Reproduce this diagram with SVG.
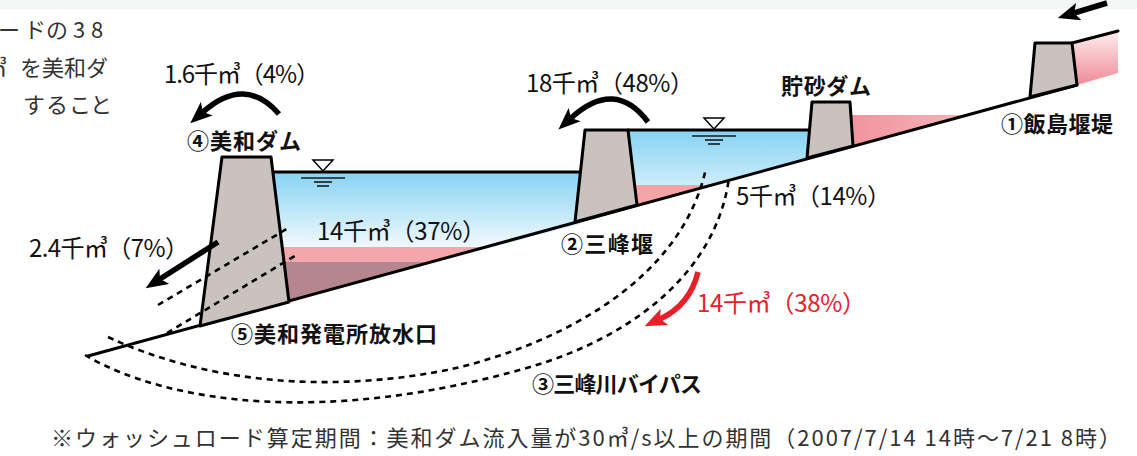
<svg xmlns="http://www.w3.org/2000/svg" width="1137" height="456" viewBox="0 0 1137 456">
  <defs>
    <style>
      .lbl{font-family:"Noto Sans CJK JP","Noto Sans",sans-serif;font-size:22px;font-weight:700;fill:#111}
      .qty{font-family:"Noto Sans CJK JP","Noto Sans",sans-serif;font-size:24px;font-weight:400;fill:#111}
      .red{fill:#e8202a}
      .note{font-family:"Noto Sans CJK JP","Noto Sans",sans-serif;font-size:22px;font-weight:400;fill:#333}
      .dam{fill:#c9c2bf;stroke:#000;stroke-width:3;stroke-linejoin:round}
      .edge{fill:none;stroke:#000;stroke-width:3;stroke-linecap:round}
      .dash{fill:none;stroke:#000;stroke-width:2.6;stroke-dasharray:6 5}
      .flow{fill:none;stroke:#000;stroke-width:5.5;marker-end:url(#ah)}
      .flow-red{fill:none;stroke:#e8202a;stroke-width:5.5;marker-end:url(#ahr)}
      .wl line{stroke:#1a1a1a;stroke-width:1.6}
    </style>
    <marker id="ah" markerUnits="userSpaceOnUse" viewBox="0 0 22 18" markerWidth="22" markerHeight="18" refX="5" refY="9" orient="auto">
      <path d="M0,0 L22,9 L0,18 L5,9 z" fill="#000"/>
    </marker>
    <marker id="ahr" markerUnits="userSpaceOnUse" viewBox="0 0 22 18" markerWidth="22" markerHeight="18" refX="5" refY="9" orient="auto">
      <path d="M0,0 L22,9 L0,18 L5,9 z" fill="#e8202a"/>
    </marker>
    <linearGradient id="waterMiwa" gradientUnits="userSpaceOnUse" x1="0" y1="172" x2="0" y2="247">
      <stop offset="0" stop-color="#86d2f3"/>
      <stop offset="1" stop-color="#f2fafd"/>
    </linearGradient>
    <linearGradient id="waterMibu" gradientUnits="userSpaceOnUse" x1="0" y1="130" x2="0" y2="205">
      <stop offset="0" stop-color="#86d2f3"/>
      <stop offset="1" stop-color="#e6f6fc"/>
    </linearGradient>
    <linearGradient id="sandPink" gradientUnits="userSpaceOnUse" x1="850" y1="0" x2="964" y2="0">
      <stop offset="0" stop-color="#f1939d"/>
      <stop offset="1" stop-color="#f6b3b9"/>
    </linearGradient>
    <linearGradient id="upPink" gradientUnits="userSpaceOnUse" x1="0" y1="30" x2="0" y2="85">
      <stop offset="0" stop-color="#fdf0f1"/>
      <stop offset="1" stop-color="#ef8a96"/>
    </linearGradient>
    <g id="wlMark" class="wl">
      <path d="M-10,-12 L10,-12 L0,-1 z" fill="#fff" stroke="#000" stroke-width="1.5"/>
      <line x1="-22" y1="6" x2="22" y2="6"/>
      <line x1="-9" y1="10" x2="9" y2="10"/>
      <line x1="-6" y1="14" x2="6" y2="14"/>
    </g>
  </defs>

  <rect x="0" y="0" width="1137" height="456" fill="#fff"/>
  <rect x="0" y="0" width="1137" height="9" fill="#f5f7f7"/>

  <!-- paragraph fragment at upper left -->
  <g id="intro-text" class="note">
    <text x="-2 24 46 73 91" y="38">ードの38</text>
    <text x="-15 20 42 64 86" y="76">㎥を美和ダ</text>
    <text x="23 46 69 90" y="113">すること</text>
  </g>

  <!-- reservoirs and deposits -->
  <g id="water">
    <polygon points="265,172 585,172 580,224 288,303" fill="url(#waterMiwa)"/>
    <polygon points="280,247 484,247 288,303" fill="#f5a6aa"/>
    <polygon points="283,262 430,262 289,302" fill="#b5868f"/>
    <polygon points="625,130 812,130 807,158 637,205" fill="url(#waterMibu)"/>
    <polygon points="630,185 710,185 637,205" fill="#f5a3a7"/>
    <polygon points="848,115 964,115 853,146" fill="url(#sandPink)"/>
    <polygon points="1072,43 1118,31 1118,73 1077,85" fill="url(#upPink)"/>
  </g>

  <!-- river bed and water surfaces -->
  <g id="bed">
    <path class="edge" d="M88,356 L1077,85"/>
    <path class="edge" d="M1072,43 L1118,31"/>
    <path class="edge" d="M271,172 L581,172"/>
    <path class="edge" d="M628,130 L810,130"/>
    <use href="#wlMark" x="323" y="172"/>
    <use href="#wlMark" x="714" y="130"/>
  </g>

  <!-- dams and weirs -->
  <g id="miwa-dam">
    <polygon class="dam" points="222,157 271,157 289,302 200,326"/>
    <text class="lbl" x="187" y="149" textLength="114" lengthAdjust="spacing">④美和ダム</text>
  </g>
  <g id="mibu-weir">
    <polygon class="dam" points="585,130 628,130 637,205 575,222"/>
    <text class="lbl" x="561" y="252" textLength="92" lengthAdjust="spacing">②三峰堰</text>
  </g>
  <g id="sand-dam">
    <polygon class="dam" points="812,102 850,102 853,146 807,158"/>
    <text class="lbl" x="781" y="94" textLength="90" lengthAdjust="spacing">貯砂ダム</text>
  </g>
  <g id="iijima-dam">
    <polygon class="dam" points="1035,43 1072,43 1077,85 1030,97"/>
    <text class="lbl" x="1001" y="132" textLength="112" lengthAdjust="spacing">①飯島堰堤</text>
  </g>

  <!-- outlet and bypass tunnels -->
  <g id="connectors">
    <path class="dash" d="M158,305 L290,227"/>
    <path class="dash" d="M167,333 L298,254"/>
    <path class="dash" d="M108,337 C200,380 320,395 447,370 C540,350 680,290 706,168"/>
    <path class="dash" d="M85,355 C170,405 330,425 530,367 C620,341 715,280 729,178"/>

    <path class="flow" d="M279,114 Q245,75 203,112"/>
    <path class="flow" d="M648,122 Q615,78 571,118"/>
    <path class="flow" d="M218,242 L160,279"/>
    <path class="flow" d="M1107,3 L1074,13"/>
    <path class="flow-red" d="M698,272 Q690,305 660,319"/>
  </g>

  <g id="outlet-label">
    <text class="lbl" x="231" y="342" textLength="206" lengthAdjust="spacing">⑤美和発電所放水口</text>
  </g>
  <g id="bypass-label">
    <text class="lbl" x="532" y="392" textLength="170" lengthAdjust="spacing">③三峰川バイパス</text>
  </g>

  <!-- volumes -->
  <g id="volumes">
    <text class="qty" x="164" y="83" textLength="156" lengthAdjust="spacing">1.6千㎥（4%）</text>
    <text class="qty" x="526" y="92" textLength="168" lengthAdjust="spacing">18千㎥（48%）</text>
    <text class="qty" x="736" y="205" textLength="155" lengthAdjust="spacing">5千㎥（14%）</text>
    <text class="qty" x="317" y="240" textLength="169" lengthAdjust="spacing">14千㎥（37%）</text>
    <text class="qty" x="29" y="257" textLength="160" lengthAdjust="spacing">2.4千㎥（7%）</text>
    <text class="qty red" x="697" y="312" textLength="169" lengthAdjust="spacing">14千㎥（38%）</text>
  </g>

  <text class="note" x="51" y="446" textLength="1070" lengthAdjust="spacing">※ウォッシュロード算定期間：美和ダム流入量が30㎥/s以上の期間（2007/7/14 14時〜7/21 8時）</text>
</svg>
